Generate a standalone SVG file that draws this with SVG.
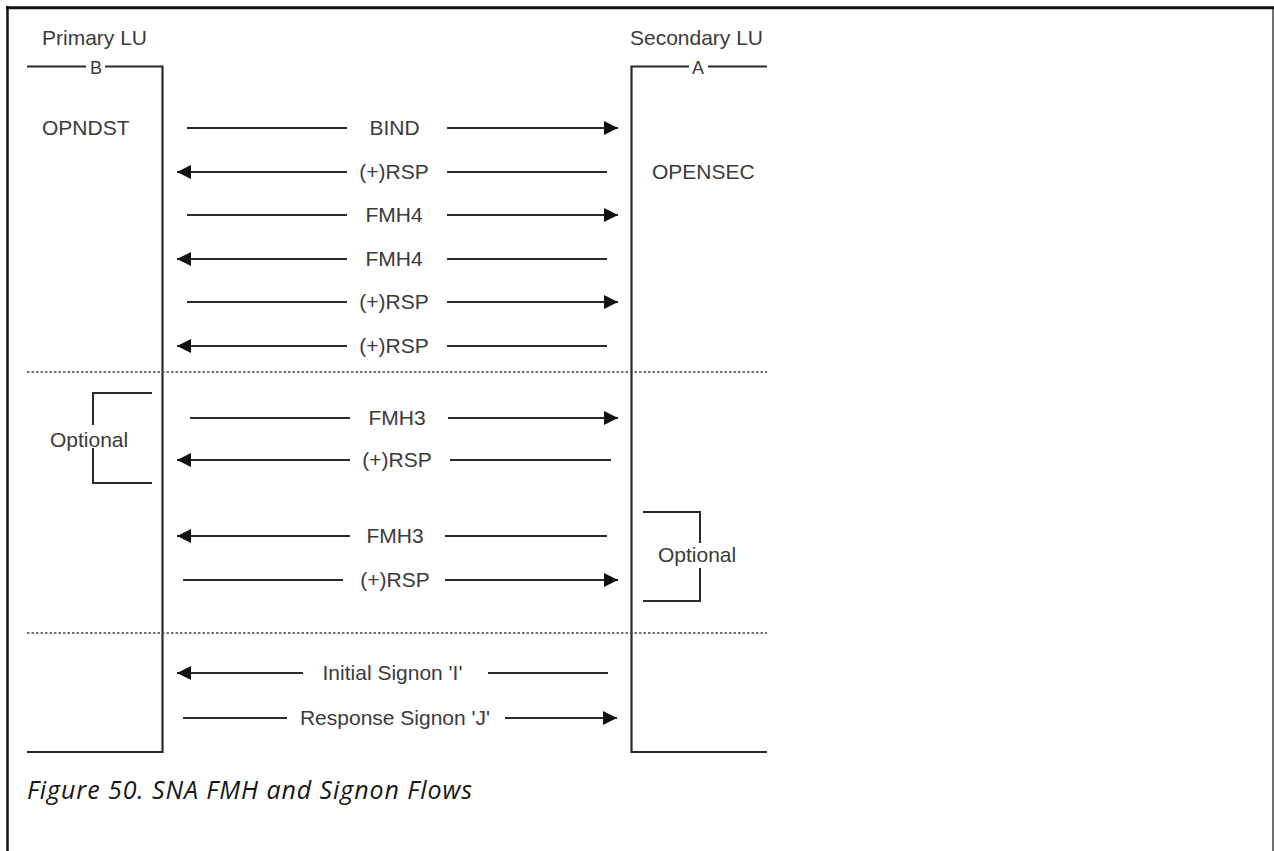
<svg xmlns="http://www.w3.org/2000/svg" width="1274" height="851" viewBox="0 0 1274 851">
<style>
.lbl{font-family:"Liberation Sans",Arial,sans-serif;font-size:21px;fill:#3a3a3a}
.mid{text-anchor:middle}
.ln{stroke:#2a2a2a;stroke-width:2;fill:none}
.life{stroke:#2a2a2a;stroke-width:2.2;fill:none}
.dash{stroke:#444;stroke-width:1.6;stroke-dasharray:2.5,2;fill:none}
.cap{font-family:"Open Sans","Noto Sans",sans-serif;font-style:italic;font-size:25px;fill:#161616}
</style>
<defs>
<marker id="ah" markerUnits="userSpaceOnUse" markerWidth="16" markerHeight="14" refX="14" refY="7" orient="auto">
<path d="M0,0 L14,7 L0,14 Z" fill="#111"/>
</marker>
</defs>
<rect width="1274" height="851" fill="#fff"/>
<g id="frame">
<line x1="7.5" y1="6" x2="7.5" y2="851" stroke="#111" stroke-width="2.5"/>
<line x1="6" y1="7.8" x2="1274" y2="7.8" stroke="#111" stroke-width="3"/>
<line x1="1273" y1="7" x2="1273" y2="851" stroke="#111" stroke-width="1.2"/>
</g>
<g id="primary-lu">
<text class="lbl mid" x="94.5" y="45">Primary LU</text>
<path class="life" d="M27,66.5 H86 M105,66.5 H162.5 V752 H27"/>
<text class="lbl mid" x="96" y="73.5" style="font-size:18px">B</text>
<text class="lbl" x="42" y="135">OPNDST</text>
</g>
<g id="secondary-lu">
<text class="lbl mid" x="696.5" y="45">Secondary LU</text>
<path class="life" d="M767,66.5 H708 M689,66.5 H631.5 V752 H767"/>
<text class="lbl mid" x="698" y="73.5" style="font-size:18px">A</text>
<text class="lbl" x="652" y="179">OPENSEC</text>
</g>
<g id="separators">
<line class="dash" x1="27" y1="372" x2="767" y2="372"/>
<line class="dash" x1="27" y1="633" x2="767" y2="633"/>
</g>
<g id="optional-left">
<path class="ln" d="M152,393 H93 V425 M93,448 V483 H152"/>
<text class="lbl" x="50" y="447">Optional</text>
</g>
<g id="optional-right">
<path class="ln" d="M643,512 H700 V543 M700,568 V601 H643"/>
<text class="lbl" x="658" y="562">Optional</text>
</g>
<g id="connectors">
<line class="ln" x1="187" y1="128" x2="347" y2="128"/>
<line class="ln" x1="447" y1="128" x2="618" y2="128" marker-end="url(#ah)"/>
<line class="ln" x1="347" y1="172" x2="177" y2="172" marker-end="url(#ah)"/>
<line class="ln" x1="447" y1="172" x2="607" y2="172"/>
<line class="ln" x1="187" y1="215" x2="347" y2="215"/>
<line class="ln" x1="447" y1="215" x2="618" y2="215" marker-end="url(#ah)"/>
<line class="ln" x1="347" y1="259" x2="177" y2="259" marker-end="url(#ah)"/>
<line class="ln" x1="447" y1="259" x2="607" y2="259"/>
<line class="ln" x1="187" y1="302" x2="347" y2="302"/>
<line class="ln" x1="447" y1="302" x2="618" y2="302" marker-end="url(#ah)"/>
<line class="ln" x1="347" y1="346" x2="177" y2="346" marker-end="url(#ah)"/>
<line class="ln" x1="447" y1="346" x2="607" y2="346"/>
<line class="ln" x1="190" y1="418" x2="350" y2="418"/>
<line class="ln" x1="448" y1="418" x2="618" y2="418" marker-end="url(#ah)"/>
<line class="ln" x1="350" y1="460" x2="177" y2="460" marker-end="url(#ah)"/>
<line class="ln" x1="450" y1="460" x2="611" y2="460"/>
<line class="ln" x1="350" y1="536" x2="177" y2="536" marker-end="url(#ah)"/>
<line class="ln" x1="445" y1="536" x2="607" y2="536"/>
<line class="ln" x1="183" y1="580" x2="343" y2="580"/>
<line class="ln" x1="445" y1="580" x2="618" y2="580" marker-end="url(#ah)"/>
<line class="ln" x1="303" y1="673" x2="177" y2="673" marker-end="url(#ah)"/>
<line class="ln" x1="488" y1="673" x2="608" y2="673"/>
<line class="ln" x1="183" y1="718" x2="287" y2="718"/>
<line class="ln" x1="505" y1="718" x2="617" y2="718" marker-end="url(#ah)"/>
</g>
<g id="labels">
<text class="lbl mid" x="394.5" y="135">BIND</text>
<text class="lbl mid" x="394" y="179">(+)RSP</text>
<text class="lbl mid" x="394" y="222">FMH4</text>
<text class="lbl mid" x="394" y="266">FMH4</text>
<text class="lbl mid" x="394" y="309">(+)RSP</text>
<text class="lbl mid" x="394" y="353">(+)RSP</text>
<text class="lbl mid" x="397" y="425">FMH3</text>
<text class="lbl mid" x="397" y="467">(+)RSP</text>
<text class="lbl mid" x="395" y="543">FMH3</text>
<text class="lbl mid" x="395" y="587">(+)RSP</text>
<text class="lbl mid" x="392.5" y="680">Initial Signon 'I'</text>
<text class="lbl mid" x="395" y="725">Response Signon 'J'</text>
</g>
<text id="caption" class="cap" x="27" y="799" textLength="445" lengthAdjust="spacing">Figure 50. SNA FMH and Signon Flows</text>
</svg>
